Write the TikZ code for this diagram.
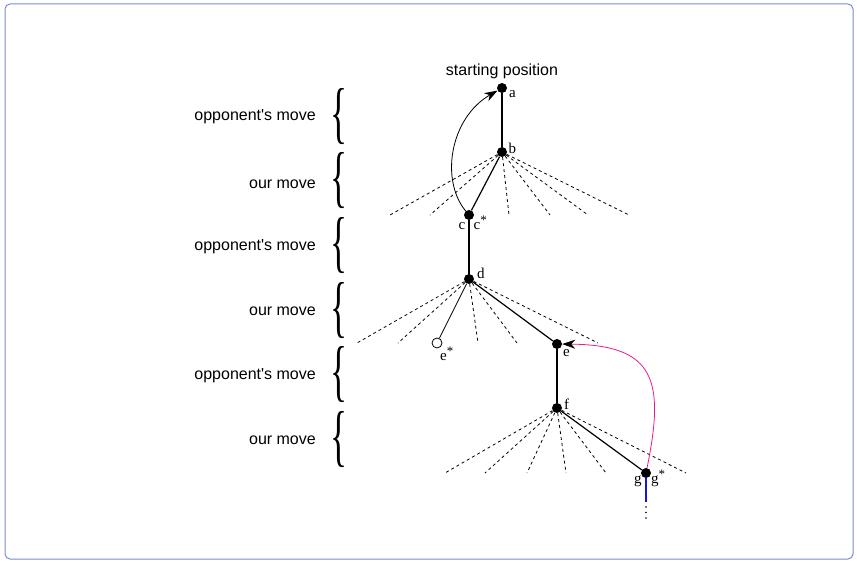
\documentclass[tikz,border=0pt]{standalone}
\usepackage{graphicx}
\usepackage{fontspec}
\setmainfont{Liberation Sans}
\newfontfamily\letterfont{Liberation Serif}
\usetikzlibrary{arrows.meta,positioning}
\definecolor{framecol}{RGB}{120,140,210}
\definecolor{hintpink}{RGB}{232,28,140}
\definecolor{linkblue}{RGB}{20,20,220}

\tikzset{
  boardpos/.style={circle,fill=black,inner sep=0pt,minimum size=10pt},
  openpos/.style={circle,draw=black,fill=white,inner sep=0pt,minimum size=10pt,line width=0.8pt},
  poslabel/.style={font=\fontsize{15}{17}\selectfont\letterfont,inner sep=0pt,anchor=base west},
  movelabel/.style={font=\fontsize{16}{19}\selectfont,anchor=east,inner sep=0pt},
  movebrace/.style={anchor=east,inner sep=0pt},
  option/.style={dashed,line width=0.8pt},
  mainline/.style={line width=1.7pt},
  sideline/.style={line width=1.2pt},
  jump/.style={line width=0.8pt,-{Stealth[black,length=13pt,width=9pt,inset=4pt]}}
}
\newcommand{\plybrace}{\resizebox{17pt}{47pt}{\letterfont\{}}
\newcommand{\best}{\raisebox{5pt}{\fontsize{13}{13}\selectfont *}}

\begin{document}
\begin{tikzpicture}[x=1pt,y=-1pt]
\useasboundingbox (0,0) rectangle (857,561);
\draw[framecol,line width=1pt,rounded corners=5pt] (5,4) rectangle (853,559);

% the moves, one brace per ply
\node[movelabel] (ply1) at (316,117) {opponent\textquotesingle s move};
\node[movelabel] (ply2) at (316,184) {our move};
\node[movelabel] (ply3) at (316,247) {opponent\textquotesingle s move};
\node[movelabel] (ply4) at (316,311) {our move};
\node[movelabel] (ply5) at (316,376) {opponent\textquotesingle s move};
\node[movelabel] (ply6) at (316,440) {our move};
\foreach \y [count=\i] in {117,181,246,311,375,440}
  \node[movebrace] (brace\i) at (348,\y) {\plybrace};

% positions
\node[boardpos] (a) at (502,88) {};
\node[boardpos] (b) at (502,152) {};
\node[boardpos] (c) at (469,215) {};
\node[boardpos] (d) at (469,279) {};
\node[openpos] (estar) at (437,343) {};
\node[boardpos] (e) at (557,344) {};
\node[boardpos] (f) at (557,408) {};
\node[boardpos] (g) at (646,473) {};
\coordinate (gend) at (646,502);

\node[font=\fontsize{16}{19}\selectfont,inner sep=0pt] (start) at (502,71) {starting position};
\node[poslabel] (la) at (509,97.5) {a};
\node[poslabel] (lb) at (508.5,154) {b};
\node[poslabel] (lc) at (458.5,229.5) {c};
\node[poslabel] (lcstar) at (473.5,229.5) {c\best};
\node[poslabel] (ld) at (477,278.5) {d};
\node[poslabel] (le) at (563,356.5) {e};
\node[poslabel] (lestar) at (440,360.5) {e\best};
\node[poslabel] (lf) at (564,409.5) {f};
\node[poslabel] (lg) at (634,483) {g};
\node[poslabel] (lgstar) at (651,483) {g\best};

% other choices
\foreach \x in {390,430,509,550,588,629}
  \draw[option] (b) -- (\x,215);
\foreach \x in {357,398,478,517,598}
  \draw[option] (d) -- (\x,343);
\foreach \x in {445,485,527,566,606,686}
  \draw[option] (f) -- (\x,473);

% line of play
\draw[mainline] (a) -- (b);
\draw[sideline] (b) -- (c);
\draw[mainline] (c) -- (d);
\draw[line width=0.8pt] (d) -- (estar);
\draw[sideline] (d) -- (e);
\draw[mainline] (e) -- (f);
\draw[sideline] (f) -- (g);
\draw[linkblue,line width=1.7pt] (g) -- (gend);
\foreach \y in {507,512.5,518}
  \fill (646,\y) circle (0.9pt);

% transpositions
\draw[jump] (c) .. controls (440,180) and (450,118) .. (a);
\draw[jump,hintpink] (g) .. controls (665,380) and (655,345) .. (e);
\end{tikzpicture}
\end{document}
